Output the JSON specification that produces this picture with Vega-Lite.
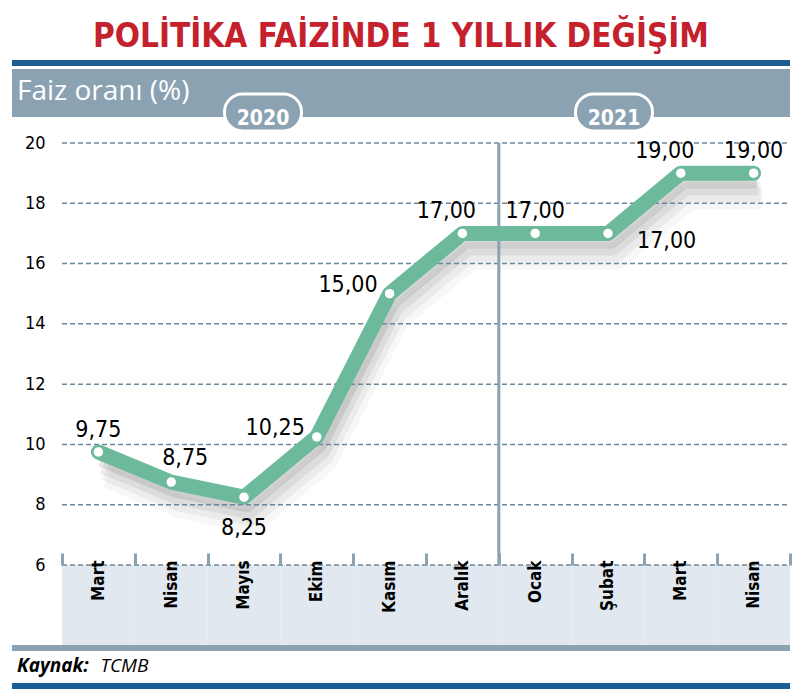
{
  "$schema": "https://vega.github.io/schema/vega-lite/v6.json",
  "width": 778,
  "height": 422,
  "autosize": {"type": "none"},
  "padding": {"left": 12, "top": 143, "right": 6, "bottom": 129},
  "background": "white",
  "title": {
    "text": "POLİTİKA FAİZİNDE 1 YILLIK DEĞİŞİM",
    "anchor": "middle",
    "font": "DejaVu Sans Condensed, DejaVu Sans, sans-serif",
    "fontSize": 33,
    "fontWeight": "bold",
    "color": "#c4212d",
    "offset": 6
  },
  "config": {
    "view": {"stroke": null},
    "locale": {
      "number": {"decimal": ",", "thousands": ".", "grouping": [3], "currency": ["", " TL"]}
    }
  },
  "data": {
    "values": [
      {"donem": "Mart 2020", "faiz": 9.75},
      {"donem": "Nisan 2020", "faiz": 8.75},
      {"donem": "Mayıs 2020", "faiz": 8.25},
      {"donem": "Ekim 2020", "faiz": 10.25},
      {"donem": "Kasım 2020", "faiz": 15},
      {"donem": "Aralık 2020", "faiz": 17},
      {"donem": "Ocak 2021", "faiz": 17},
      {"donem": "Şubat 2021", "faiz": 17},
      {"donem": "Mart 2021", "faiz": 19},
      {"donem": "Nisan 2021", "faiz": 19}
    ]
  },
  "layer": [
    {
      "encoding": {
        "x": {
          "field": "donem",
          "type": "nominal",
          "title": null,
          "sort": null,
          "scale": {
            "type": "band",
            "domain": ["Mart 2020", "Nisan 2020", "Mayıs 2020", "Ekim 2020", "Kasım 2020", "Aralık 2020", "Ocak 2021", "Şubat 2021", "Mart 2021", "Nisan 2021"],
            "paddingInner": 0,
            "paddingOuter": 0.3434,
            "align": 1
          },
          "axis": {
            "orient": "bottom",
            "labelExpr": "split(datum.label, ' ')[0]",
            "labelAngle": -90,
            "labelAlign": "right",
            "labelBaseline": "middle",
            "labelFont": "DejaVu Sans Condensed, DejaVu Sans, sans-serif",
            "labelFontSize": 17,
            "labelFontWeight": "bold",
            "labelColor": "black",
            "labelPadding": 7,
            "domain": false,
            "ticks": true,
            "tickBand": "extent",
            "tickSize": -12,
            "tickColor": "#8ba2b3",
            "tickWidth": 3,
            "grid": false,
            "zindex": 1
          }
        },
        "y": {
          "field": "faiz",
          "type": "quantitative",
          "title": null,
          "scale": {"domain": [6, 20], "nice": false, "zero": false},
          "axis": {
            "values": [6, 8, 10, 12, 14, 16, 18, 20],
            "orient": "left",
            "offset": -33,
            "domain": false,
            "ticks": false,
            "grid": false,
            "labelPadding": 0,
            "labelFont": "DejaVu Sans Condensed, DejaVu Sans, sans-serif",
            "labelFontSize": 18,
            "labelColor": "black",
            "labelBaseline": "middle"
          }
        }
      },
      "layer": [
        {
          "mark": {"type": "rect", "color": "#e1e8ef"},
          "encoding": {"y": {"datum": 6}, "y2": {"datum": 3.346}}
        },
        {
          "mark": {"type": "line", "color": "#666", "opacity": 0.16, "strokeWidth": 16, "yOffset": 7, "xOffset": 3, "strokeJoin": "round"}
        },
        {
          "mark": {"type": "line", "color": "#666", "opacity": 0.11, "strokeWidth": 18, "yOffset": 13, "xOffset": 5, "strokeJoin": "round"}
        },
        {
          "mark": {"type": "line", "color": "#666", "opacity": 0.08, "strokeWidth": 20, "yOffset": 19, "xOffset": 7, "strokeJoin": "round"}
        },
        {
          "mark": {"type": "line", "color": "#666", "opacity": 0.05, "strokeWidth": 22, "yOffset": 25, "xOffset": 9, "strokeJoin": "round"}
        }
      ]
    },
    {
      "data": {"values": [{}]},
      "mark": {"type": "rule", "color": "#1b5e93", "strokeWidth": 6},
      "encoding": {"y": {"datum": 22.65}}
    },
    {
      "data": {"values": [{}]},
      "mark": {"type": "rule", "color": "#8ba2b3", "strokeWidth": 48},
      "encoding": {"y": {"datum": 21.66}}
    },
    {
      "data": {"values": [{}]},
      "mark": {"type": "rule", "color": "#8ba2b3", "strokeWidth": 6},
      "encoding": {"y": {"datum": 3.247}}
    },
    {
      "data": {"values": [{}]},
      "mark": {"type": "rule", "color": "#1b5e93", "strokeWidth": 6},
      "encoding": {"y": {"datum": 1.986}}
    },
    {
      "data": {"values": [{"g": 6}, {"g": 8}, {"g": 10}, {"g": 12}, {"g": 14}, {"g": 16}, {"g": 18}, {"g": 20}]},
      "mark": {"type": "rule", "color": "#6d8699", "strokeWidth": 1.5, "strokeDash": [5, 3], "xOffset": -36.4, "x2Offset": 36.4},
      "encoding": {
        "y": {"field": "g", "type": "quantitative", "title": null},
        "x": {"datum": "Mart 2020"},
        "x2": {"datum": "Nisan 2021"}
      }
    },
    {
      "data": {"values": [{}]},
      "mark": {"type": "rule", "color": "#8ba2b3", "strokeWidth": 3, "xOffset": -36.4},
      "encoding": {"x": {"datum": "Ocak 2021"}}
    },
    {
      "encoding": {
        "x": {"field": "donem", "type": "nominal", "title": null},
        "y": {"field": "faiz", "type": "quantitative", "title": null}
      },
      "layer": [
        {
          "mark": {"type": "line", "color": "#6cb99b", "strokeWidth": 15, "strokeCap": "round", "strokeJoin": "round"}
        },
        {
          "mark": {"type": "point", "filled": true, "color": "white", "opacity": 1, "size": 90}
        },
        {
          "transform": [{"filter": {"field": "donem", "oneOf": ["Mart 2020", "Ocak 2021", "Nisan 2021"]}}],
          "mark": {"type": "text", "font": "DejaVu Sans Condensed, DejaVu Sans, sans-serif", "fontSize": 23, "color": "black", "baseline": "alphabetic", "dy": -15},
          "encoding": {"text": {"field": "faiz", "type": "quantitative", "format": ".2f"}}
        },
        {
          "transform": [{"filter": {"field": "donem", "oneOf": ["Aralık 2020", "Mart 2021"]}}],
          "mark": {"type": "text", "font": "DejaVu Sans Condensed, DejaVu Sans, sans-serif", "fontSize": 23, "color": "black", "baseline": "alphabetic", "dx": -16, "dy": -15},
          "encoding": {"text": {"field": "faiz", "type": "quantitative", "format": ".2f"}}
        },
        {
          "transform": [{"filter": {"field": "donem", "oneOf": ["Nisan 2020"]}}],
          "mark": {"type": "text", "font": "DejaVu Sans Condensed, DejaVu Sans, sans-serif", "fontSize": 23, "color": "black", "baseline": "alphabetic", "dx": 14, "dy": -17},
          "encoding": {"text": {"field": "faiz", "type": "quantitative", "format": ".2f"}}
        },
        {
          "transform": [{"filter": {"field": "donem", "oneOf": ["Ekim 2020", "Kasım 2020"]}}],
          "mark": {"type": "text", "font": "DejaVu Sans Condensed, DejaVu Sans, sans-serif", "fontSize": 23, "color": "black", "baseline": "alphabetic", "align": "right", "dx": -12, "dy": -2},
          "encoding": {"text": {"field": "faiz", "type": "quantitative", "format": ".2f"}}
        },
        {
          "transform": [{"filter": {"field": "donem", "oneOf": ["Mayıs 2020"]}}],
          "mark": {"type": "text", "font": "DejaVu Sans Condensed, DejaVu Sans, sans-serif", "fontSize": 23, "color": "black", "baseline": "alphabetic", "dy": 38},
          "encoding": {"text": {"field": "faiz", "type": "quantitative", "format": ".2f"}}
        },
        {
          "transform": [{"filter": {"field": "donem", "oneOf": ["Şubat 2021"]}}],
          "mark": {"type": "text", "font": "DejaVu Sans Condensed, DejaVu Sans, sans-serif", "fontSize": 23, "color": "black", "baseline": "alphabetic", "align": "left", "dx": 29, "dy": 15},
          "encoding": {"text": {"field": "faiz", "type": "quantitative", "format": ".2f"}}
        }
      ]
    },
    {
      "data": {"values": [{}]},
      "mark": {"type": "text", "text": "Faiz oranı (%)", "font": "Open Sans", "fontSize": 28, "color": "white", "align": "left", "baseline": "alphabetic", "dx": -81.4},
      "encoding": {"x": {"datum": "Mart 2020"}, "y": {"datum": 21.43}}
    },
    {
      "data": {"values": [{}]},
      "encoding": {"x": {"datum": "Mayıs 2020"}},
      "layer": [
        {
          "mark": {"type": "bar", "width": 77, "xOffset": 19, "cornerRadius": 18, "color": "#8ba2b3", "stroke": "white", "strokeWidth": 3},
          "encoding": {"y": {"datum": 21.625}, "y2": {"datum": 20.4}}
        },
        {
          "mark": {"type": "text", "text": "2020", "font": "DejaVu Sans Condensed, DejaVu Sans, sans-serif", "fontSize": 21, "fontWeight": "bold", "color": "white", "baseline": "alphabetic", "dx": 19},
          "encoding": {"y": {"datum": 20.597}}
        }
      ]
    },
    {
      "data": {"values": [{}]},
      "encoding": {"x": {"datum": "Şubat 2021"}},
      "layer": [
        {
          "mark": {"type": "bar", "width": 77, "xOffset": 6, "cornerRadius": 18, "color": "#8ba2b3", "stroke": "white", "strokeWidth": 3},
          "encoding": {"y": {"datum": 21.625}, "y2": {"datum": 20.4}}
        },
        {
          "mark": {"type": "text", "text": "2021", "font": "DejaVu Sans Condensed, DejaVu Sans, sans-serif", "fontSize": 21, "fontWeight": "bold", "color": "white", "baseline": "alphabetic", "dx": 6},
          "encoding": {"y": {"datum": 20.597}}
        }
      ]
    },
    {
      "data": {"values": [{}]},
      "encoding": {"x": {"datum": "Mart 2020"}, "y": {"datum": 2.45}},
      "layer": [
        {
          "mark": {"type": "text", "text": "Kaynak:", "font": "Open Sans", "fontSize": 19, "fontWeight": "bold", "fontStyle": "italic", "color": "black", "align": "left", "baseline": "alphabetic", "dx": -81.4}
        },
        {
          "mark": {"type": "text", "text": "TCMB", "font": "Open Sans", "fontSize": 19, "fontStyle": "italic", "color": "black", "align": "left", "baseline": "alphabetic", "dx": 2}
        }
      ]
    }
  ]
}
